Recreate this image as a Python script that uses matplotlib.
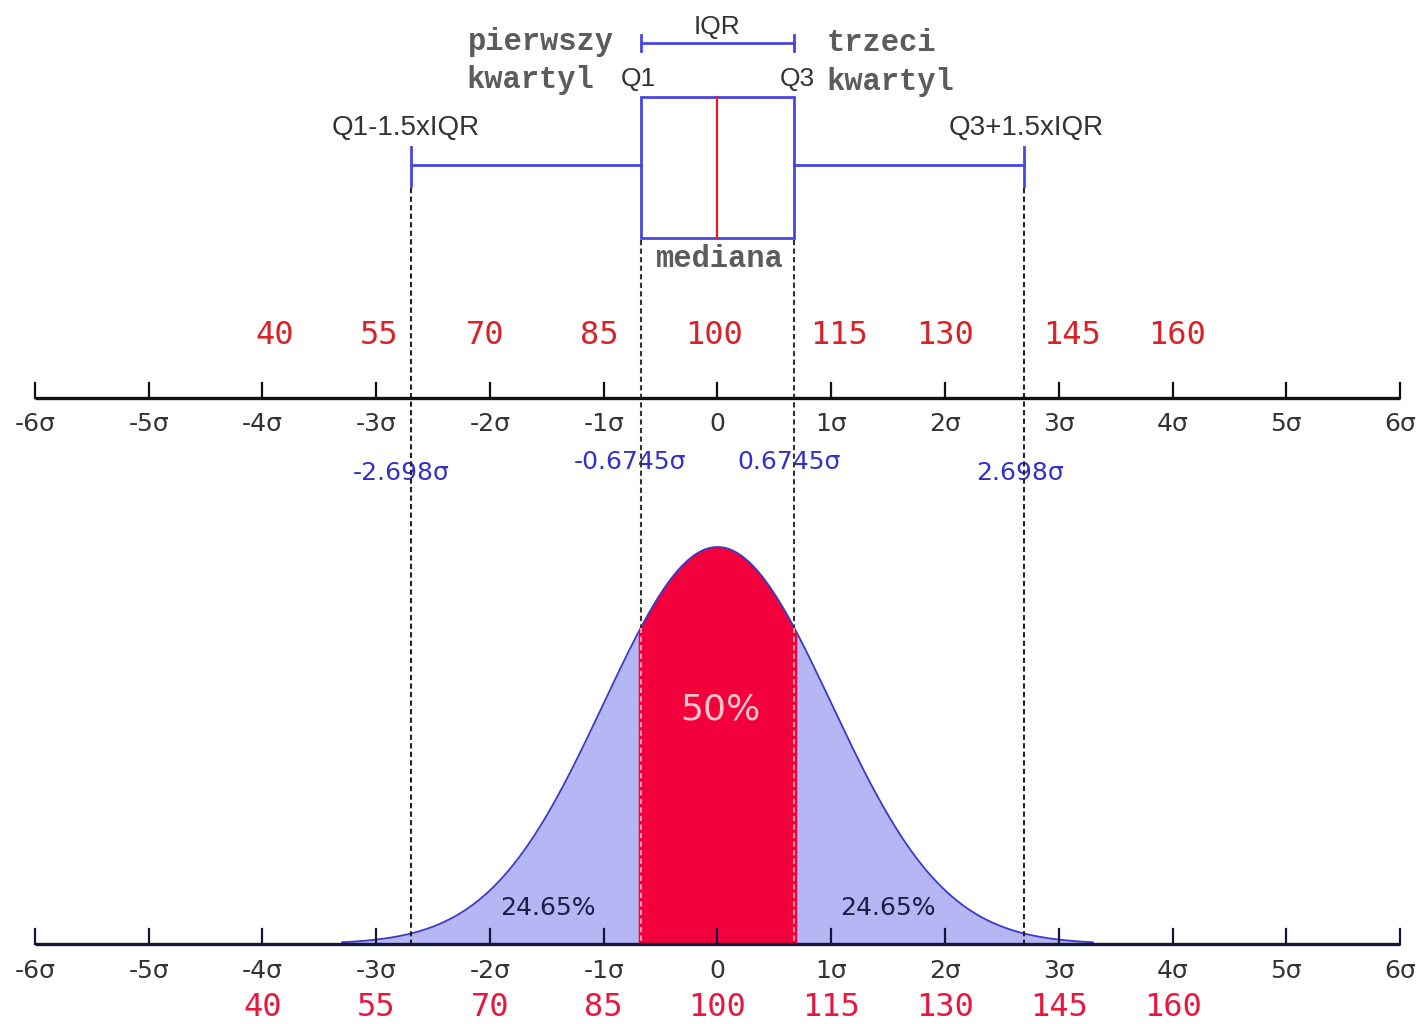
import numpy as np
import matplotlib
matplotlib.use("Agg")
import matplotlib.pyplot as plt
from matplotlib.patches import Rectangle

# ---- data ----
sigma_ticks = [-6, -5, -4, -3, -2, -1, 0, 1, 2, 3, 4, 5, 6]
sigma_labels = ['-6σ', '-5σ', '-4σ', '-3σ', '-2σ', '-1σ', '0', '1σ', '2σ', '3σ', '4σ', '5σ', '6σ']
iq_sigma = [-4, -3, -2, -1, 0, 1, 2, 3, 4]
iq_values = [40, 55, 70, 85, 100, 115, 130, 145, 160]
q1, median, q3 = -0.6745, 0.0, 0.6745
whisker_lo, whisker_hi = -2.698, 2.698
marker_values = [-2.698, -0.6745, 0.6745, 2.698]
marker_labels = ['-2.698σ', '-0.6745σ', '0.6745σ', '2.698σ']
tail_pct = '24.65%'
center_pct = '50%'

# ---- figure: x in sigma units, y in pixel rows (inverted) ----
W, H = 1427, 1024
fig = plt.figure(figsize=(W / 100, H / 100), dpi=100)
ax = fig.add_axes([0, 0, 1, 1])
px_per_sigma = (1400 - 35) / 12.0
x0 = 717.5
ax.set_xlim(-x0 / px_per_sigma, (W - x0) / px_per_sigma)
ax.set_ylim(H, 0)
ax.axis('off')

def px(xp):
    return (xp - x0) / px_per_sigma

sans = ['Liberation Sans', 'DejaVu Sans']
wide = ['DejaVu Sans']
mono = ['Liberation Mono', 'DejaVu Sans Mono']
dash = (0, (2.5, 1.6))

# ---- bell curve ----
top_axis_y, base_y, peak_y = 398, 944, 547
xs = np.linspace(-3.3, 3.3, 600)
pdf = np.exp(-xs ** 2 / 2)
curve_y = base_y - (base_y - peak_y) * pdf
lav = ax.fill_between(xs, curve_y, base_y, color='#b6b6f4', lw=0, zorder=1)
mask = (xs >= q1) & (xs <= q3)
red = ax.fill_between(xs[mask], curve_y[mask], base_y, color='#f2003c', lw=5,
                      edgecolor='#f2003c', zorder=2)
red.set_clip_path(lav.get_paths()[0], ax.transData)
ax.plot(xs, curve_y, color='#3a3ac8', lw=1.3, zorder=3)

# ---- dashed guide lines ----
for v in [whisker_lo, whisker_hi]:
    ax.plot([v, v], [188, base_y], color='#222222', lw=1.5, ls=dash, zorder=4)
for v in [q1, q3]:
    ax.plot([v, v], [240, base_y - 310], color='#333333', lw=1.5, ls=dash, zorder=4)
    ax.plot([v, v], [base_y - 316, base_y], color='#ff90a8', lw=1.5, ls=dash, zorder=4)

# ---- axes lines ----
for yy, col in [(top_axis_y, '#111111'), (base_y, '#14143c')]:
    ax.plot([sigma_ticks[0], sigma_ticks[-1]], [yy, yy], color=col, lw=2.4, zorder=5,
            solid_capstyle='butt')
    for t in sigma_ticks:
        ax.plot([t, t], [yy - 15, yy], color=col, lw=1.6, zorder=5)

for t, lab in zip(sigma_ticks, sigma_labels):
    ax.text(t, 424, lab, ha='center', va='center', fontsize=18, color='#333333', family=wide)
    ax.text(t, 971, lab, ha='center', va='center', fontsize=18, color='#333333', family=wide)

top_offsets_px = [12, 3, -5, -4, -3, 8, 0, 13, 4]
for s, v, o in zip(iq_sigma, iq_values, top_offsets_px):
    ax.text(s + o / px_per_sigma, 335, str(v), ha='center', va='center', fontsize=23,
            color='#d82228', family=['DejaVu Sans Mono'])
    ax.text(s, 1007, str(v), ha='center', va='center', fontsize=23,
            color='#e8173f', family=['DejaVu Sans Mono'])

label_y = [473, 462, 462, 473]
label_off_px = [-9, -11, -5, -4]
for v, lab, yy, o in zip(marker_values, marker_labels, label_y, label_off_px):
    ax.text(v + o / px_per_sigma, yy, lab, ha='center', va='center', fontsize=18,
            color='#3232c8', family=wide)

# ---- box plot ----
box_col = '#4646e0'
ax.add_patch(Rectangle((q1, 97), q3 - q1, 238 - 97, fill=False, edgecolor=box_col,
                       lw=2.0, zorder=6))
ax.plot([median, median], [97, 238], color='#e02020', lw=1.6, zorder=6)
ax.plot([whisker_lo, q1], [165, 165], color=box_col, lw=2.0, zorder=6)
ax.plot([q3, whisker_hi], [165, 165], color=box_col, lw=2.0, zorder=6)
for v in [whisker_lo, whisker_hi]:
    ax.plot([v, v], [147, 186], color=box_col, lw=2.0, zorder=6)

# IQR bracket
ax.plot([q1, q3], [43, 43], color=box_col, lw=2.0, zorder=6)
for v in [q1, q3]:
    ax.plot([v, v], [35, 51], color=box_col, lw=2.0, zorder=6)
ax.text(median, 27, 'IQR', ha='center', va='center', fontsize=19, color='#333333', family=sans)

# ---- annotations ----
gray = '#5c5c5c'
for xp, yp, s in [(541, 42, 'pierwszy'), (530, 80, 'kwartyl'), (881, 43, 'trzeci'),
                  (890, 82, 'kwartyl'), (720, 259, 'mediana')]:
    ax.text(px(xp), yp, s, ha='center', va='center', fontsize=22, color=gray,
            family=mono, fontweight='bold')
ax.text(px(638), 79, 'Q1', ha='center', va='center', fontsize=19, color='#333333', family=sans)
ax.text(px(797), 79, 'Q3', ha='center', va='center', fontsize=19, color='#333333', family=sans)
ax.text(px(406), 128, 'Q1-1.5xIQR', ha='center', va='center', fontsize=20, color='#333333',
        family=sans)
ax.text(px(1026), 128, 'Q3+1.5xIQR', ha='center', va='center', fontsize=20, color='#333333',
        family=sans)

ax.text(px(720), 710, center_pct, ha='center', va='center', fontsize=26, color='#f8c4cc',
        family=['DejaVu Sans'], zorder=7)
ax.text(px(548), 908, tail_pct, ha='center', va='center', fontsize=18, color='#1e1e46',
        family=wide, zorder=7)
ax.text(px(888), 908, tail_pct, ha='center', va='center', fontsize=18, color='#1e1e46',
        family=wide, zorder=7)

fig.savefig('out.png', dpi=100, facecolor='white')
